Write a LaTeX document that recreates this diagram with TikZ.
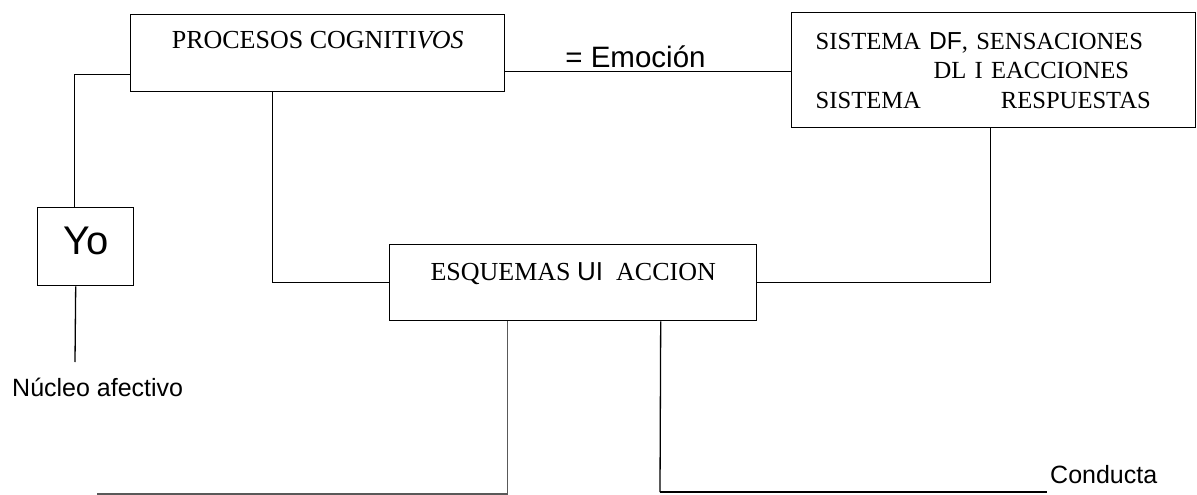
\documentclass[tikz,border=0pt]{standalone}
\usepackage{fontspec}
\setmainfont{Liberation Serif}
\newfontfamily\arialfont{Liberation Sans}
\usepackage{tikz}
\tikzstyle{box_normal} = [draw, line width=1.4pt, inner xsep=0pt, anchor=north west]
\tikzstyle{text_sans} = [inner sep=0pt, anchor=base west, font=\arialfont\fontsize{25}{30}\selectfont]
\tikzstyle{edge_normal} = [line width=1.3pt]
\tikzstyle{edge_thick} = [line width=2.4pt]
\tikzstyle{edge_grey} = [line width=1.2pt, draw=black!65]

\begin{document}
\begin{tikzpicture}[x=1pt, y=-1pt]
\useasboundingbox (0,0) rectangle (1197,495);
\node (proc) at (130,14) [box_normal, minimum width=374pt, inner ysep=18pt, text height=16pt, text depth=25pt, font=\fontsize{26}{30}\selectfont] {PROCESOS COGNITI\textit{VOS}};
\node (sis) at (791,12) [box_normal, minimum width=404pt, minimum height=115pt, inner xsep=24pt, align=left, text width=356pt, font=\fontsize{24.6}{29.5}\selectfont] {SISTEMA {\arialfont DF}, SENSACIONES\\ \hspace*{118pt}DL I EACCIONES\\ SISTEMA\hspace{80pt}RESPUESTAS};
\node (esq) at (389,244) [box_normal, minimum width=367pt, inner ysep=18pt, text height=18pt, text depth=22pt, font=\fontsize{26}{30}\selectfont] {ESQUEMAS {\arialfont UI}~~ACCION};
\node (yo) at (37,207) [box_normal, minimum width=96pt, inner ysep=18pt, text height=29pt, text depth=13pt, font=\arialfont\fontsize{40}{48}\selectfont] {Yo};
\node (emo) at (635.5,68) [inner sep=0pt, anchor=base, font=\arialfont\fontsize{29.5}{34}\selectfont] {= Emoción};
\node (nucleo) at (12,396) [text_sans] {Núcleo afectivo};
\node (conducta) at (1050,483) [text_sans] {Conducta};
\coordinate (nucleo_top) at (75,362);
\coordinate (end_left) at (97,494);
\coordinate (corner_right) at (660,492);
\coordinate (end_right) at (1047,492);

\draw[edge_normal] ([xshift=-11pt]yo.north) |- ([yshift=18pt]proc.south west);
\draw[edge_normal] ([xshift=-10pt]yo.south) -- (nucleo_top);
\draw[edge_normal] ([yshift=-18.5pt]proc.east) -- ([yshift=-18.5pt]proc.east -| sis.west);
\draw[edge_normal] ([xshift=-45pt]proc.south) |- (esq.west);
\draw[edge_normal] ([xshift=-3pt]sis.south) |- (esq.east);
\draw[edge_grey] ([xshift=-65.5pt]esq.south) |- (end_left);
\draw[edge_normal] ([xshift=87.5pt]esq.south) -- (corner_right);
\draw[edge_thick] (corner_right) -- (end_right);
\end{tikzpicture}
\end{document}
